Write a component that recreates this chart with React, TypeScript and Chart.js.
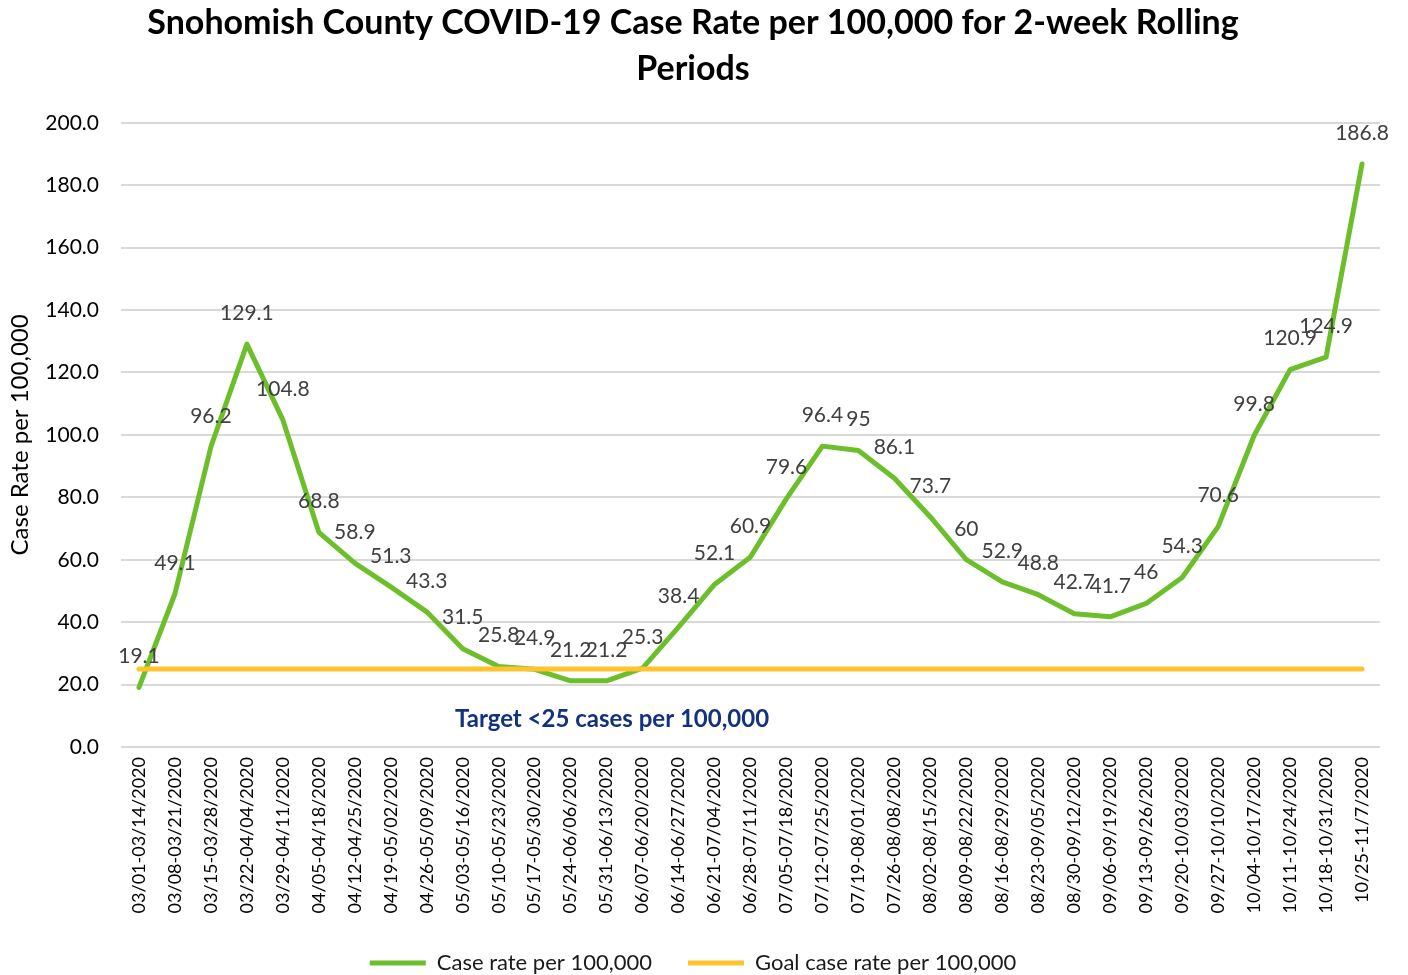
import { useEffect, useRef } from "react";
import { Chart, registerables } from "chart.js";

Chart.register(...registerables);

const FONT = "Lato, 'Noto Sans', sans-serif";

const periods = [
  "03/01-03/14/2020", "03/08-03/21/2020", "03/15-03/28/2020", "03/22-04/04/2020",
  "03/29-04/11/2020", "04/05-04/18/2020", "04/12-04/25/2020", "04/19-05/02/2020",
  "04/26-05/09/2020", "05/03-05/16/2020", "05/10-05/23/2020", "05/17-05/30/2020",
  "05/24-06/06/2020", "05/31-06/13/2020", "06/07-06/20/2020", "06/14-06/27/2020",
  "06/21-07/04/2020", "06/28-07/11/2020", "07/05-07/18/2020", "07/12-07/25/2020",
  "07/19-08/01/2020", "07/26-08/08/2020", "08/02-08/15/2020", "08/09-08/22/2020",
  "08/16-08/29/2020", "08/23-09/05/2020", "08/30-09/12/2020", "09/06-09/19/2020",
  "09/13-09/26/2020", "09/20-10/03/2020", "09/27-10/10/2020", "10/04-10/17/2020",
  "10/11-10/24/2020", "10/18-10/31/2020", "10/25-11/7/2020",
];

const caseRates = [
  19.1, 49.1, 96.2, 129.1, 104.8, 68.8, 58.9, 51.3, 43.3, 31.5, 25.8, 24.9,
  21.2, 21.2, 25.3, 38.4, 52.1, 60.9, 79.6, 96.4, 95, 86.1, 73.7, 60, 52.9,
  48.8, 42.7, 41.7, 46, 54.3, 70.6, 99.8, 120.9, 124.9, 186.8,
];

const goalRates = [
  25, 25, 25, 25, 25, 25, 25, 25, 25, 25, 25, 25, 25, 25, 25, 25, 25, 25,
  25, 25, 25, 25, 25, 25, 25, 25, 25, 25, 25, 25, 25, 25, 25, 25, 25,
];

const titleLines = [
  "Snohomish County COVID-19 Case Rate per 100,000 for 2-week Rolling",
  "Periods",
];
const yAxisTitle = "Case Rate per 100,000";
const targetNote = "Target <25 cases per 100,000";
const targetNoteAt = { index: 13.15, value: 9 };

export default function App() {
  const ref = useRef<HTMLCanvasElement>(null);

  useEffect(() => {
    const valueLabels = {
      id: "valueLabels",
      afterDatasetsDraw(chart: any) {
        const ctx = chart.ctx;
        const meta = chart.getDatasetMeta(0);
        ctx.save();
        ctx.font = `21px ${FONT}`;
        ctx.fillStyle = "#404040";
        ctx.textAlign = "center";
        ctx.textBaseline = "middle";
        meta.data.forEach((pt: any, i: number) => {
          ctx.fillText(String(caseRates[i]), pt.x, pt.y - 31);
        });
        const xs = chart.scales.x;
        const ys = chart.scales.y;
        ctx.font = `bold 24px ${FONT}`;
        ctx.fillStyle = "#12317F";
        ctx.fillText(
          targetNote,
          xs.getPixelForValue(targetNoteAt.index),
          ys.getPixelForValue(targetNoteAt.value)
        );
        ctx.restore();
      },
    };

    const chart = new Chart(ref.current as HTMLCanvasElement, {
      type: "line",
      data: {
        labels: periods,
        datasets: [
          {
            label: "Case rate per 100,000",
            data: caseRates,
            borderColor: "#6CBF2A",
            backgroundColor: "#6CBF2A",
            borderWidth: 5,
            pointRadius: 0,
            tension: 0,
            borderJoinStyle: "round",
            borderCapStyle: "round",
            order: 2,
          },
          {
            label: "Goal case rate per 100,000",
            data: goalRates,
            borderColor: "#FEC42F",
            backgroundColor: "#FEC42F",
            borderWidth: 5,
            pointRadius: 0,
            tension: 0,
            borderCapStyle: "round",
            order: 1,
          },
        ],
      },
      options: {
        animation: false,
        responsive: true,
        maintainAspectRatio: false,
        layout: { padding: { left: 6, right: 28, top: 0, bottom: -9 } },
        plugins: {
          title: {
            display: true,
            text: titleLines,
            color: "#000000",
            font: { family: FONT, size: 34, weight: "bold", lineHeight: 1.35 },
            padding: { top: 0, bottom: 31 },
          },
          legend: {
            position: "bottom",
            labels: {
              usePointStyle: true,
              pointStyle: "line",
              pointStyleWidth: 56,
              boxHeight: 22,
              color: "#1A1A1A",
              font: { family: FONT, size: 22 },
              padding: 36,
              sort: (a: any, b: any) => a.datasetIndex - b.datasetIndex,
            },
          },
          tooltip: { enabled: false },
        },
        scales: {
          x: {
            offset: true,
            grid: { display: false, drawTicks: false },
            border: { display: false },
            ticks: {
              color: "#000000",
              font: { family: FONT, size: 18 },
              maxRotation: 90,
              minRotation: 90,
              autoSkip: false,
              padding: 10,
            },
            afterFit: (scale: any) => {
              scale.height = 169;
            },
          },
          y: {
            min: 0,
            max: 200,
            ticks: {
              stepSize: 20,
              color: "#000000",
              font: { family: FONT, size: 21 },
              padding: 22,
              callback: (v: any) => Number(v).toFixed(1),
            },
            grid: { color: "#D9D9D9", lineWidth: 2, drawTicks: false },
            border: { display: false },
            title: {
              display: true,
              text: yAxisTitle,
              color: "#000000",
              font: { family: FONT, size: 24 },
              padding: { top: 0, bottom: 0 },
            },
            afterFit: (scale: any) => {
              scale.width = 115;
            },
          },
        },
      },
      plugins: [valueLabels],
    });
    return () => chart.destroy();
  }, []);

  return (
    <div style={{ position: "absolute", left: 0, top: 0, width: 1408, height: 975 }}>
      <canvas ref={ref} />
    </div>
  );
}
